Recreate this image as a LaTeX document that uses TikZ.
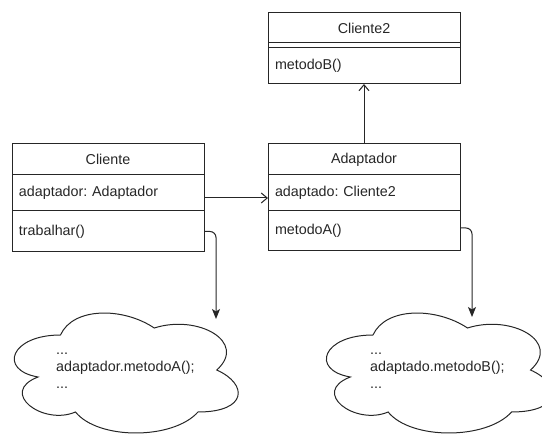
\documentclass[tikz,border=0pt]{standalone}
\usepackage{fontspec}
\setmainfont{Liberation Sans}
\usetikzlibrary{arrows.meta}
\frenchspacing
\begin{document}
\begin{tikzpicture}[x=1pt,y=-1pt,
  every node/.style={font=\fontsize{14.3}{17.2}\selectfont, text=black!85},
  box/.style={draw=black!85, line width=1pt, minimum width=192pt, inner sep=0pt, outer sep=0pt, anchor=north west},
  head/.style={box, align=center},
  row/.style={box, text width=178pt, inner xsep=7pt, align=left},
  assoc/.style={draw=black!85, line width=1pt, -{Straight Barb[length=6pt,width=10pt,line width=1pt]}},
  call/.style={draw=black!85, line width=1pt, rounded corners=6pt, -{Stealth[length=10pt,width=8pt,inset=2.5pt]}},
  cloudline/.style={draw=black!85, line width=1pt},
  note/.style={anchor=west, align=left, inner sep=0pt}
]
\useasboundingbox (0,0) rectangle (542,435);

% class Cliente
\node[head, minimum height=31pt] (cl-h) at (12,144) {Cliente};
\node[row, minimum height=36pt] (cl-a) at (12,175) {adaptador: Adaptador};
\node[row, minimum height=41pt] (cl-m) at (12,211) {trabalhar()};

% class Cliente2 (no attributes)
\node[head, minimum height=30pt] (c2-h) at (268,13) {Cliente2};
\node[box, minimum height=5pt] (c2-a) at (268,43) {};
\node[row, minimum height=36pt] (c2-m) at (268,48) {metodoB()};

% class Adaptador
\node[head, minimum height=31pt] (ad-h) at (268,144) {Adaptador};
\node[row, minimum height=36pt] (ad-a) at (268,175) {adaptado: Cliente2};
\node[row, minimum height=40pt] (ad-m) at (268,211) {metodoA()};

% associations
\draw[assoc] ([yshift=-5pt]cl-a.east) -- ([yshift=-5pt]ad-a.west);
\draw[assoc] (ad-h.north) -- (c2-m.south);

% method bodies as clouds
\begin{scope}[shift={(-2,300)}, x=250pt, y=-140pt]
  \draw[cloudline] (0.25,0.25) .. controls (0.05,0.25) and (0,0.5) .. (0.16,0.55)
    .. controls (0,0.66) and (0.18,0.9) .. (0.31,0.8)
    .. controls (0.4,1) and (0.7,1) .. (0.8,0.8)
    .. controls (1,0.8) and (1,0.6) .. (0.875,0.5)
    .. controls (1,0.3) and (0.8,0.1) .. (0.625,0.2)
    .. controls (0.5,0.05) and (0.3,0.05) .. (0.25,0.25) -- cycle;
\end{scope}
\begin{scope}[shift={(310,300)}, x=252pt, y=-140pt]
  \draw[cloudline] (0.25,0.25) .. controls (0.05,0.25) and (0,0.5) .. (0.16,0.55)
    .. controls (0,0.66) and (0.18,0.9) .. (0.31,0.8)
    .. controls (0.4,1) and (0.7,1) .. (0.8,0.8)
    .. controls (1,0.8) and (1,0.6) .. (0.875,0.5)
    .. controls (1,0.3) and (0.8,0.1) .. (0.625,0.2)
    .. controls (0.5,0.05) and (0.3,0.05) .. (0.25,0.25) -- cycle;
\end{scope}
\node[note] (body1) at (56,371) {...\\adaptador.metodoA();\\...};
\node[note] (body2) at (370,371) {...\\adaptado.metodoB();\\...};

% method calls
\coordinate (k1) at (216,319);
\coordinate (k2) at (472,317);
\draw[call] (cl-m.east) -| (k1);
\draw[call] ([yshift=3pt]ad-m.east) -| (k2);
\end{tikzpicture}
\end{document}
